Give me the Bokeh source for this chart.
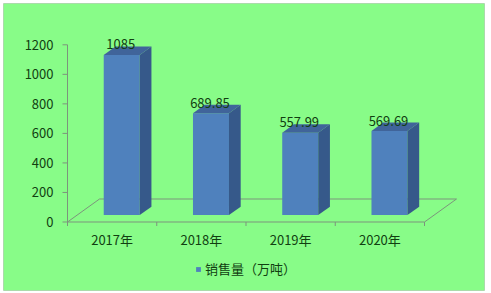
import numpy as np
from bokeh.plotting import figure
from bokeh.models import Range1d, BoxAnnotation, Legend, LegendItem
from bokeh.core.properties import value
from bokeh.embed import file_html
from bokeh.resources import INLINE

# ---------------- data ----------------
categories = ["2017年", "2018年", "2019年", "2020年"]
sales = [1085, 689.85, 557.99, 569.69]
sales_labels = ["1085", "689.85", "557.99", "569.69"]
y_ticks = [0, 200, 400, 600, 800, 1000, 1200]
y_tick_labels = ["0", "200", "400", "600", "800", "1000", "1200"]
series_name = "销售量（万吨）"

# ---------------- style ----------------
GREEN = "#88FC88"
FRAME_LINE = "#6F8F6F"
AXIS_LINE = "#7C957C"
TEXT = "#113F11"
FRONT = "#4F81BD"
SIDE = "#36598A"
TOP = "#40649A"
FONT = "Noto Sans CJK SC"

W, H = 491, 293
AX_X = 67               # screen x of the value axis
Y0_PX = 221.5           # screen y of value 0
PX_X = 89.25            # px per category
PX_Y = 177.2 / 1200     # px per value unit

DX = 32 / PX_X          # floor depth (x, category units)
DY = 23 / PX_Y          # floor depth (y, value units)
F0 = 0.30               # bar front position (fraction of depth)
FD = 0.366              # bar depth (fraction of depth)
BW = 36 / PX_X          # bar width
TICK_Y = 4 / PX_Y
TICK_X = 5 / PX_X

n = len(categories)
p = figure(width=W, height=H, output_backend="svg", toolbar_location=None,
           x_axis_type=None, y_axis_type=None,
           x_range=Range1d(-AX_X / PX_X, (W - AX_X) / PX_X),
           y_range=Range1d(-(H - Y0_PX) / PX_Y, Y0_PX / PX_Y),
           min_border=0, min_border_left=0, min_border_right=0,
           min_border_top=0, min_border_bottom=0)
p.background_fill_color = "white"
p.border_fill_color = "white"
p.outline_line_color = None

# chart area panel with border
panel = BoxAnnotation(left=3, right=484, bottom=3, top=290,
                      left_units="screen", right_units="screen",
                      bottom_units="screen", top_units="screen",
                      fill_color=GREEN, fill_alpha=1,
                      line_color=FRAME_LINE, line_width=1, level="underlay")
p.add_layout(panel)

yt = np.array(y_ticks, dtype=float)
# value axis
p.segment(x0=[0], y0=[yt[0]], x1=[0], y1=[yt[-1]], line_color=AXIS_LINE)
p.segment(x0=-TICK_X * np.ones(len(yt)), y0=yt, x1=np.zeros(len(yt)), y1=yt,
          line_color=AXIS_LINE)
p.text(x=np.zeros(len(yt)), y=yt, text=y_tick_labels, x_offset=-14,
       text_align="right", text_baseline="middle",
       text_font=value(FONT), text_font_size="13px", text_color=TEXT)

# floor
p.patch(x=[0, n, n + DX, DX], y=[0, 0, DY, DY], fill_alpha=0,
        line_color=AXIS_LINE, line_width=1)
bounds = np.arange(n + 1)
p.segment(x0=bounds, y0=np.zeros(n + 1), x1=bounds, y1=-TICK_Y * np.ones(n + 1),
          line_color=AXIS_LINE)

# bars
v = np.array(sales, dtype=float)
xc = np.arange(n) + 0.5
fl = xc + F0 * DX - BW / 2
fr = fl + BW
b0 = F0 * DY
ddx, ddy = FD * DX, FD * DY

front = p.quad(left=fl, right=fr, bottom=b0, top=b0 + v,
               fill_color=FRONT, line_color=None)
side_xs = [[r, r + ddx, r + ddx, r] for r in fr]
side_ys = [[b0, b0 + ddy, b0 + ddy + h, b0 + h] for h in v]
p.patches(xs=side_xs, ys=side_ys, fill_color=SIDE, line_color=None)
top_xs = [[l, r, r + ddx, l + ddx] for l, r in zip(fl, fr)]
top_ys = [[b0 + h, b0 + h, b0 + h + ddy, b0 + h + ddy] for h in v]
p.patches(xs=top_xs, ys=top_ys, fill_color=TOP, line_color=None)

# value labels
p.text(x=xc + F0 * DX, y=b0 + v + ddy, text=sales_labels,
       text_align="center", text_baseline="alphabetic", x_offset=-1, y_offset=-2,
       text_font=value(FONT), text_font_size="13px", text_color=TEXT)

# category labels
p.text(x=xc, y=np.zeros(n), text=categories, text_align="center",
       text_baseline="middle", y_offset=17.5,
       text_font=value(FONT), text_font_size="13px", text_color=TEXT)

legend = Legend(items=[LegendItem(label=series_name, renderers=[front])],
                location=(195, 15), orientation="horizontal",
                glyph_width=6, glyph_height=6, label_standoff=4, label_height=13,
                padding=0, margin=0, spacing=0,
                background_fill_alpha=0, border_line_color=None,
                label_text_font=FONT, label_text_font_size="13px",
                label_text_color=TEXT)
p.add_layout(legend)

open("out.html", "w").write(file_html(p, INLINE))
